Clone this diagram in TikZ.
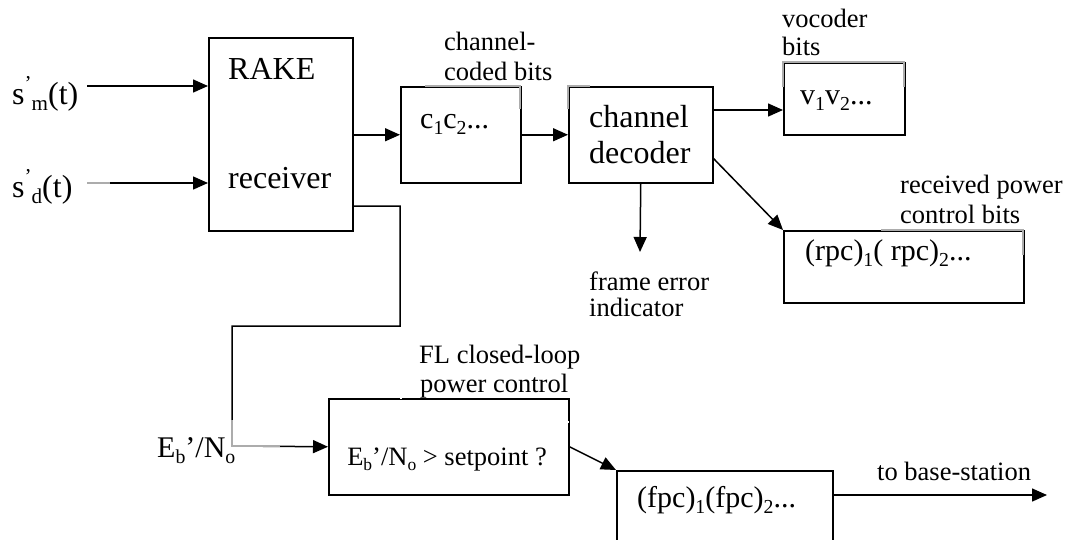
\documentclass[tikz,border=0pt]{standalone}
\usepackage{fontspec}
\usepackage{graphicx}
\setmainfont{Liberation Serif}
\usetikzlibrary{arrows.meta}
\tikzset{
  blk/.style={draw, line width=1.5pt, anchor=north west, inner sep=0pt},
  con/.style={line width=1.5pt, -{Triangle[length=15pt,width=13pt]}},
  ln/.style={line width=1.5pt},
  gr/.style={line width=1.5pt, draw=gray!65},
  big/.style={font=\fontsize{32}{36}\selectfont, inner sep=0pt, anchor=base west},
  mid/.style={font=\fontsize{30}{34}\selectfont, inner sep=0pt, anchor=base west},
  sml/.style={font=\fontsize{26.5}{30}\selectfont, inner sep=0pt, anchor=base west},
}
\newcommand\lo[1]{\raisebox{-0.2em}{\scalebox{0.66}{#1}}}
\newcommand\hi[1]{\raisebox{0.42em}{\scalebox{0.66}{#1}}}
\begin{document}
\begin{tikzpicture}[x=1pt,y=-1pt]
\useasboundingbox (0,0) rectangle (1071,539);
\clip (0,0) rectangle (1071,539);
% blocks
\node[blk, minimum width=144pt, minimum height=193pt] (rake) at (208,37) {};
\node[blk, minimum width=120pt, minimum height=96pt] (cbox) at (400,86) {};
\node[blk, minimum width=144pt, minimum height=96pt] (dec) at (568,86) {};
\node[blk, minimum width=121pt, minimum height=72pt] (voc) at (783,62) {};
\node[blk, minimum width=240pt, minimum height=72pt] (rpc) at (783,230) {};
\node[blk, minimum width=240pt, minimum height=96pt] (fl) at (328,398) {};
\node[blk, minimum width=216pt, minimum height=100pt] (fpc) at (616,470) {};
% texts in blocks
\node[big] (tRake) at (228,79) {RAKE};
\node[big] (tRec) at (228,188) {receiver};
\node[mid] (tC) at (420,128) {c\lo{1}c\lo{2}...};
\node[big] (tCh) at (589,127) {channel};
\node[big] (tDec) at (589,163) {decoder};
\node[mid] (tV) at (800,104) {v\lo{1}v\lo{2}...};
\node[mid] (tRpc) at (805,260) {(rpc)\lo{1}( rpc)\lo{2}...};
\node[sml, anchor=base] (tFl) at (447,465) {E\lo{b}’/N\lo{o} > setpoint ?};
\node[mid] (tFpc) at (637,507) {(fpc)\lo{1}(fpc)\lo{2}...};
% labels
\node[big] (sm) at (12,104) {s\hi{’}\lo{m}(t)};
\node[big] (sd) at (12,197) {s\hi{’}\lo{d}(t)};
\node[sml] (lc1) at (444,50) {channel-};
\node[sml] (lc2) at (444,80) {coded bits};
\node[sml] (lv1) at (782,27) {vocoder};
\node[sml] (lv2) at (782,55) {bits};
\node[sml] (lr1) at (900,193) {received power};
\node[sml] (lr2) at (900,223) {control bits};
\node[sml] (lf1) at (589,290) {frame error};
\node[sml] (lf2) at (589,316) {indicator};
\node[big, font=\fontsize{30}{34}\selectfont] (lE) at (157,457) {E\lo{b}’/N\lo{o}};
\node[sml] (lp1) at (419,363) {FL closed-loop};
\node[sml] (lp2) at (420,392) {power control};
\node[sml] (lb) at (877,480) {to base-station};
% coordinates
\coordinate (smS) at (87,86);
\coordinate (sdS) at (87,183);
\coordinate (dv) at (712,110);
\coordinate (dr) at (713,158);
\coordinate (feT) at (640,252);
\coordinate (rE) at (352,206);
\coordinate (k1) at (400,206);
\coordinate (k2) at (400,326);
\coordinate (k3) at (232,326);
\coordinate (k4) at (232,446);
\coordinate (fo) at (832,495);
\coordinate (bsT) at (1047,495);
% connectors
\draw[con] (smS) -- (smS -| rake.west);
\draw[con] (sdS) -- (sdS -| rake.west);
\draw[con] (rake.east |- cbox.west) -- (cbox.west);
\draw[con] (cbox.east) -- (dec.west);
\draw[con] (dec.east |- dv) -- (voc.west |- dv);
\draw[con] (dr) -- (rpc.north west);
\draw[con] (dec.south) -- (feT);
\draw[con] (rE) -- (k1) -- (k2) -- (k3) -- (k4) -- (fl.west);
\draw[con] (fl.east) -- (fpc.north west);
\draw[con] (fo) -- (bsT);
% grey fragments
\draw[gr] (87,183) -- (110,183);
\draw[gr] (425,86) -- (520,86) -- (520,109);
\draw[gr] (568,109) -- (568,86) -- (590,86);
\draw[gr] (783,87) -- (783,62) -- (904,62) -- (904,87);
\draw[gr] (881,230) -- (1023,230) -- (1023,255);
\draw[gr] (232,420) -- (232,446) -- (280,446);
\draw[line width=1.6pt, white] (400,398) -- (402,398);
\draw[line width=1.6pt, white] (568,421) -- (568,423);
\end{tikzpicture}
\end{document}
